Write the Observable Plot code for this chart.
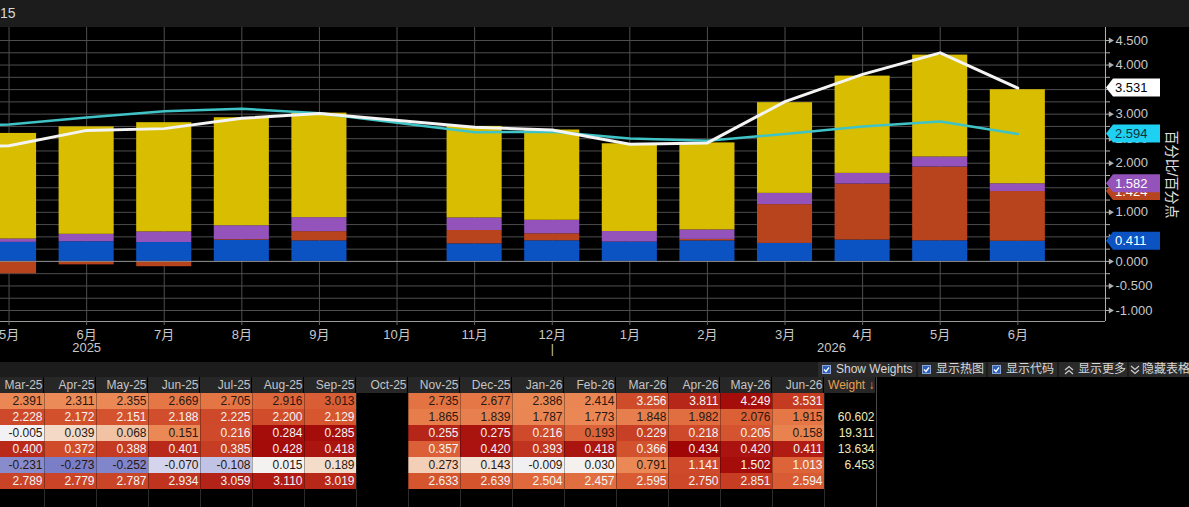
<!DOCTYPE html>
<html><head><meta charset="utf-8">
<script src="https://cdn.jsdelivr.net/npm/d3@7"></script>
<script src="https://cdn.jsdelivr.net/npm/@observablehq/plot@0.6"></script>
<style>
html,body{margin:0;padding:0;background:#000;width:1189px;height:507px;overflow:hidden;font-family:"Liberation Sans","Noto Sans CJK SC",sans-serif;}
#top{height:27px;background:#1c1c1c;color:#d8d8d8;font-size:14px;line-height:27px;white-space:nowrap;overflow:hidden;}
#chart{height:335px;}
#bar{position:relative;height:15px;background:#1c1c1c;}
.btn{position:absolute;top:0;height:15px;background:#2a2a2a;color:#d8d8d8;font-size:12px;line-height:15px;white-space:nowrap;}
.btn svg{position:absolute;top:3px;}
.btn span{position:absolute;top:0;}
#table{height:130px;}
</style></head><body>
<div id="top">15</div>
<div id="chart"></div>
<div id="bar">
  <div class="btn" style="left:818px;width:98px"><svg width="9" height="9" style="left:4px"><rect x="0.5" y="0.5" width="8" height="8" fill="#2d5fbf" stroke="#8aa6d8"/><path d="M2,4.5 L4,6.5 L7,2.5" fill="none" stroke="#fff" stroke-width="1.3"/></svg><span style="left:18px">Show Weights</span></div>
  <div class="btn" style="left:918px;width:68px"><svg width="9" height="9" style="left:4px"><rect x="0.5" y="0.5" width="8" height="8" fill="#2d5fbf" stroke="#8aa6d8"/><path d="M2,4.5 L4,6.5 L7,2.5" fill="none" stroke="#fff" stroke-width="1.3"/></svg><span style="left:18px">显示热图</span></div>
  <div class="btn" style="left:988px;width:69px"><svg width="9" height="9" style="left:4px"><rect x="0.5" y="0.5" width="8" height="8" fill="#2d5fbf" stroke="#8aa6d8"/><path d="M2,4.5 L4,6.5 L7,2.5" fill="none" stroke="#fff" stroke-width="1.3"/></svg><span style="left:18px">显示代码</span></div>
  <div class="btn" style="left:1059px;width:68px"><svg width="10" height="10" style="left:5px"><path d="M1,5 L5,1.5 L9,5 M1,9 L5,5.5 L9,9" fill="none" stroke="#d0d0d0" stroke-width="1.2"/></svg><span style="left:19px">显示更多</span></div>
  <div class="btn" style="left:1129px;width:60px"><svg width="10" height="10" style="left:1px"><path d="M1,1 L5,4.5 L9,1 M1,5 L5,8.5 L9,5" fill="none" stroke="#d0d0d0" stroke-width="1.2"/></svg><span style="left:13px">隐藏表格</span></div>
</div>
<div id="table"></div>
<script>
// ---------------- data ----------------
const months = ["Mar-25","Apr-25","May-25","Jun-25","Jul-25","Aug-25","Sep-25","Oct-25","Nov-25","Dec-25","Jan-26","Feb-26","Mar-26","Apr-26","May-26","Jun-26"];
const monthLabels = ["3月","4月","5月","6月","7月","8月","9月","10月","11月","12月","1月","2月","3月","4月","5月","6月"];
const headline  = [2.391,2.311,2.355,2.669,2.705,2.916,3.013,null,2.735,2.677,2.386,2.414,3.256,3.811,4.249,3.531];
const compA     = [2.228,2.172,2.151,2.188,2.225,2.200,2.129,null,1.865,1.839,1.787,1.773,1.848,1.982,2.076,1.915];
const compB     = [-0.005,0.039,0.068,0.151,0.216,0.284,0.285,null,0.255,0.275,0.216,0.193,0.229,0.218,0.205,0.158];
const compC     = [0.400,0.372,0.388,0.401,0.385,0.428,0.418,null,0.357,0.420,0.393,0.418,0.366,0.434,0.420,0.411];
const compD     = [-0.231,-0.273,-0.252,-0.070,-0.108,0.015,0.189,null,0.273,0.143,-0.009,0.030,0.791,1.141,1.502,1.013];
const benchmark = [2.789,2.779,2.787,2.934,3.059,3.110,3.019,null,2.633,2.639,2.504,2.457,2.595,2.750,2.851,2.594];
const weights   = [null,60.602,19.311,13.634,6.453,null];
const yMajorTicks = [-1,-0.5,0,0.5,1,1.5,2,2.5,3,3.5,4,4.5];
const yMinorTicks = [-0.75,-0.25,0.25,0.75,1.25,1.75,2.25,2.75,3.25,3.75,4.25];
const yearTicks = [{label:"2025", at:3}, {label:"2026", at:12.6}];
const yearDivider = [9];
const yTitle = "百分比/百分点";
const weightHeader = "Weight ↓";

// ---------------- chart ----------------
const FONT = '"Liberation Sans","Noto Sans CJK SC",sans-serif';
const xDomain = [1.89, 16.13], yDomain = [-1.224, 4.765];
const stackSeries = [
  {key:"C", values:compC, color:"#0b52c2", tagFg:"#ffffff"},
  {key:"D", values:compD, color:"#b8441e", tagFg:"#ffffff"},
  {key:"B", values:compB, color:"#9353bb", tagFg:"#ffffff"},
  {key:"A", values:compA, color:"#d8bd00", tagFg:"#000000"}
];
const rects = [];
months.forEach((m, i) => {
  let pos = 0, neg = 0;
  for (const s of stackSeries) {
    const v = s.values[i];
    if (v == null) continue;
    if (v >= 0) { rects.push({i, y1: pos, y2: pos + v, s: s.key}); pos += v; }
    else { rects.push({i, y1: neg + v, y2: neg, s: s.key}); neg += v; }
  }
});
const lineOf = arr => arr.map((v, i) => ({i, v})).filter(d => d.v != null);
const whiteLine = lineOf(headline), cyanLine = lineOf(benchmark);
const visibleIdx = d3.range(months.length).filter(i => i >= xDomain[0] && i <= xDomain[1]);
const gridY = [...yMajorTicks, ...yMinorTicks];

// tags: cumulative stack values at the last month, then benchmark and headline
const last = months.length - 1;
const tags = [];
{
  let cum = 0;
  for (const s of stackSeries.slice(0, 3)) {
    cum += s.values[last];
    tags.push({v: cum, bg: s.color, fg: s.tagFg});
  }
  tags.push({v: benchmark[last], bg: "#1ed0f2", fg: "#10303c"});
  tags.push({v: headline[last], bg: "#ffffff", fg: "#000000"});
}
function tagMark(index, scales, values, dim) {
  const g = d3.create("svg:g").attr("font-size", 13).attr("font-family", FONT).attr("text-anchor", "start");
  const x0 = dim.width - dim.marginRight;
  for (const t of tags) {
    const y = scales.y(t.v);
    g.append("path")
      .attr("d", `M${x0+1},${y} L${x0+8},${y-9} L${x0+55},${y-9} L${x0+55},${y+9} L${x0+8},${y+9} Z`)
      .attr("fill", t.bg);
    g.append("text").attr("x", x0 + 10).attr("y", y).attr("dy", "0.36em")
      .attr("text-anchor", "start").attr("fill", t.fg).text(t.v.toFixed(3));
  }
  return g.node();
}

const chart = Plot.plot({
  width: 1189, height: 335,
  marginLeft: 0, marginRight: 84, marginTop: 0, marginBottom: 41,
  style: {background: "#000", fontFamily: FONT, color: "#c8c8c8", overflow: "visible"},
  x: {type: "linear", domain: xDomain, axis: null},
  y: {type: "linear", domain: yDomain, axis: null},
  color: {domain: stackSeries.map(s => s.key), range: stackSeries.map(s => s.color)},
  marks: [
    Plot.ruleY(gridY, {stroke: "#4e4e4e"}),
    Plot.ruleX(visibleIdx, {stroke: "#4e4e4e"}),
    Plot.rect(rects, {x1: d => d.i - 0.355, x2: d => d.i + 0.355, y1: "y1", y2: "y2", fill: "s", clip: true}),
    Plot.ruleY([0], {stroke: "#8a8a8a"}),
    Plot.line(cyanLine, {x: "i", y: "v", stroke: "#3fc3c6", strokeWidth: 2.5, clip: true}),
    Plot.line(whiteLine, {x: "i", y: "v", stroke: "#f4f4f4", strokeWidth: 3, clip: true}),
    Plot.ruleY([yDomain[0]], {stroke: "#9a9a9a"}),
    Plot.ruleX([xDomain[1]], {stroke: "#b0b0b0"}),
    Plot.axisX(visibleIdx, {anchor: "bottom", tickFormat: i => monthLabels[i], tickSize: 4, tickPadding: 4,
      fontSize: 13, fill: "#c8c8c8", stroke: "#6a6a6a", label: null}),
    Plot.text(yearTicks, {x: "at", text: "label", frameAnchor: "bottom", dy: 30, fill: "#c8c8c8", fontSize: 13}),
    Plot.text(yearDivider, {x: d => d, text: () => "|", frameAnchor: "bottom", dy: 31, fill: "#c8c8c8", fontSize: 12}),
    Plot.axisY(yMajorTicks, {anchor: "right", tickSize: 6, tickPadding: 4, tickFormat: v => v.toFixed(3),
      fontSize: 13, fill: "#c8c8c8", stroke: "#b0b0b0", label: null}),
    Plot.axisY(yMinorTicks, {anchor: "right", tickSize: 4, tickFormat: () => "", stroke: "#b0b0b0", label: null}),
    Plot.dot(yMajorTicks, {y: d => d, frameAnchor: "right", dx: 5, symbol: "triangle", rotate: 90, r: 2.2, fill: "#b0b0b0"}),
    Plot.text([yTitle], {frameAnchor: "right", textAnchor: "middle", dx: 66, rotate: 90, fill: "#e0e0e0", fontSize: 14}),
    tagMark
  ]
});
document.getElementById("chart").appendChild(chart);

// ---------------- heat table ----------------
const tableRows = [headline, compA, compB, compC, compD, benchmark];
const heat = d3.scaleLinear()
  .domain([-1,-0.6,-0.3,0,0.12,0.23,0.5,0.6,0.66,0.7,0.8,0.9,1])
  .range(["#7a7ec6","#9fa3d8","#cfd0ec","#f4f4f4","#f4dccc","#f2c2a4","#eb8c58","#e47444","#dc6238","#d4532e","#c43a22","#b01c14","#a00606"])
  .clamp(true);
const negMax = d3.max(tableRows.flat().filter(v => v != null && v < 0).map(Math.abs));
// per-row heat mapping: "extent" maps the row's range to [lo, hi]; "zero" maps 0..max to 0..hi
const rowHeat = [
  {mode: "extent", lo: 0.50, hi: 0.97, thr: 0.70},
  {mode: "extent", lo: 0.52, hi: 0.74, thr: 0.68},
  {mode: "zero", hi: 0.97, thr: 0.68},
  {mode: "extent", lo: 0.665, hi: 1.0, thr: 0},
  {mode: "zero", hi: 0.97, thr: 0.60},
  {mode: "extent", lo: 0.62, hi: 0.90, thr: 0}
];
const cells = [];
tableRows.forEach((row, r) => {
  const vals = row.filter(v => v != null);
  const [mn, mx] = d3.extent(vals);
  const cfg = rowHeat[r];
  const tf = cfg.mode === "extent"
    ? d3.scaleLinear([mn, mx], [cfg.lo, cfg.hi])
    : (v => v >= 0 ? v / mx * cfg.hi : v / negMax);
  row.forEach((v, k) => {
    if (v == null) return;
    const t = tf(v);
    cells.push({r, k, v, fill: heat(t), text: t < cfg.thr ? "#2b1710" : "#f4f4f4"});
  });
});
const headerCols = [...months.map((m, k) => ({k, label: m})), {k: months.length, label: weightHeader}];
const weightCells = weights.map((w, r) => ({r, w})).filter(d => d.w != null);
const colW = 52, colOff = 8, rowH = 16, tableH = 130;
const nCols = months.length + 1;

const table = Plot.plot({
  width: 1189, height: tableH, margin: 0,
  style: {background: "#000", fontFamily: FONT},
  x: {type: "linear", domain: [colOff / colW, (1189 + colOff) / colW], range: [0, 1189], axis: null},
  y: {type: "linear", domain: [0, tableH / rowH], range: [0, tableH], axis: null},
  marks: [
    Plot.ruleX(d3.range(1, nCols + 1), {y1: 1, y2: tableH / rowH, stroke: "#2c2c2c"}),
    Plot.rect(headerCols, {x1: d => d.k, x2: d => d.k + 1, y1: 0, y2: 1, fill: "#272727", insetRight: 1}),
    Plot.rect(cells, {x1: d => d.k, x2: d => d.k + 1, y1: d => d.r + 1, y2: d => d.r + 2, fill: d => d.fill}),
    Plot.ruleX(d3.range(1, nCols), {y1: 1, y2: 7, stroke: "#000", strokeOpacity: 0.3}),
    Plot.ruleX([nCols], {y1: 0, y2: tableH / rowH, stroke: "#4a4a4a"}),
    Plot.text(headerCols, {x: d => d.k + 1, y: 0.5, text: "label", textAnchor: "end", dx: -2, fontSize: 12,
      fill: d => d.k === months.length ? "#e8a050" : "#c4c4c4"}),
    Plot.text(cells, {x: d => d.k + 1, y: d => d.r + 1.5, text: d => d.v.toFixed(3), textAnchor: "end", dx: -2,
      fontSize: 12, fill: d => d.text}),
    Plot.text(weightCells, {x: nCols, y: d => d.r + 1.5, text: d => d.w.toFixed(3), textAnchor: "end", dx: -2,
      fontSize: 12, fill: "#f0e8b8"})
  ]
});
document.getElementById("table").appendChild(table);
</script>
</body></html>
